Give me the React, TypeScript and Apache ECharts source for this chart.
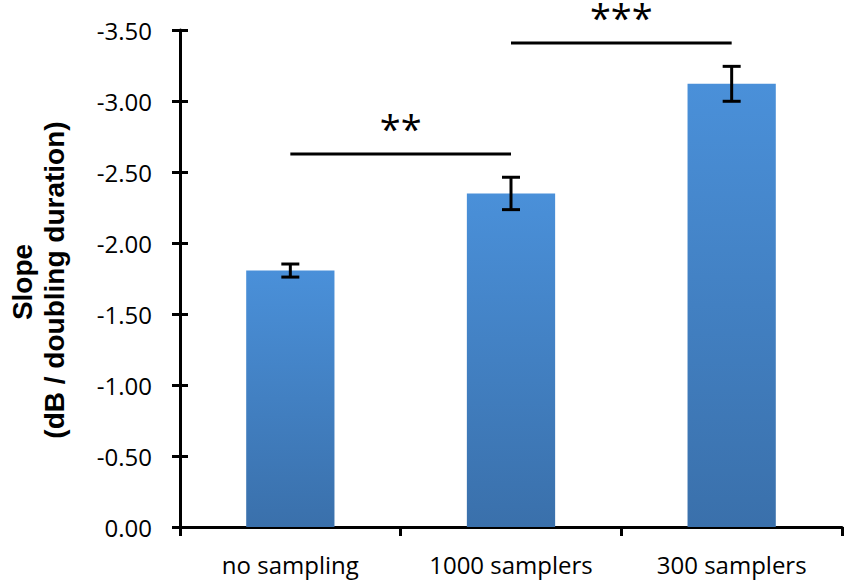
import React, { useEffect, useRef } from "react";
import * as echarts from "echarts";

const categories = ["no sampling", "1000 samplers", "300 samplers"];
const slopes = [-1.806, -2.349, -3.121];
const slopeErrors = [0.046, 0.114, 0.123];
const sigStart = [0, 1];
const sigEnd = [1, 2];
const sigLevel = [-2.626, -3.409];
const sigLabels = ["**", "***"];
const yTitleLines = ["Slope", "(dB / doubling duration)"];

export default function App() {
  const ref = useRef<HTMLDivElement>(null);
  useEffect(() => {
    document.body.style.margin = "0";
    const chart = echarts.init(ref.current!, null, { renderer: "svg" });
    const axisLine = { show: true, lineStyle: { color: "#000", width: 3 } };
    const errData = slopes.map((v, i) => [i, v, slopeErrors[i]]);
    const sigData = sigStart.map((s, i) => [s, sigEnd[i], sigLevel[i]]);
    chart.setOption({
      animation: false,
      grid: { left: 180, right: 8, top: 30, bottom: 57 },
      xAxis: {
        type: "category",
        data: categories,
        position: "bottom",
        axisLine: { ...axisLine, onZero: false },
        axisTick: { show: true, length: 9, lineStyle: { color: "#000", width: 3 } },
        axisLabel: { margin: 25, color: "#000", fontFamily: "Open Sans", fontSize: 24 },
      },
      yAxis: [
        {
          type: "value",
          inverse: true,
          min: -3.5,
          max: 0,
          interval: 0.5,
          axisLine,
          splitLine: { show: false },
          axisTick: { show: true, length: 8, lineStyle: { color: "#000", width: 3 } },
          axisLabel: {
            margin: 28,
            color: "#000",
            fontFamily: "Open Sans",
            fontSize: 24,
            formatter: (v: number) => v.toFixed(2),
          },
        },
        {
          type: "value",
          inverse: true,
          position: "left",
          min: -3.5,
          max: 0,
          interval: 0.5,
          axisLine: { show: false },
          splitLine: { show: false },
          axisTick: { show: true, inside: true, length: 8, lineStyle: { color: "#000", width: 3 } },
          axisLabel: { show: false },
        },
      ],
      series: [
        {
          type: "bar",
          data: slopes,
          barWidth: "40%",
          itemStyle: {
            color: new echarts.graphic.LinearGradient(0, 0, 0, 1, [
              { offset: 0, color: "#4a90d9" },
              { offset: 1, color: "#3a70ab" },
            ]),
          },
        },
        {
          type: "custom",
          data: errData,
          encode: { x: 0, y: 1 },
          z: 5,
          renderItem: (params: any, api: any) => {
            const i = api.value(0);
            const v = api.value(1);
            const e = api.value(2);
            const a = api.coord([i, v - e]);
            const b = api.coord([i, v + e]);
            const hw = 9;
            const st = { stroke: "#000", lineWidth: 3 };
            return {
              type: "group",
              children: [
                { type: "line", shape: { x1: a[0], y1: a[1], x2: b[0], y2: b[1] }, style: st },
                { type: "line", shape: { x1: a[0] - hw, y1: a[1], x2: a[0] + hw, y2: a[1] }, style: st },
                { type: "line", shape: { x1: b[0] - hw, y1: b[1], x2: b[0] + hw, y2: b[1] }, style: st },
              ],
            };
          },
        },
        {
          type: "custom",
          data: sigData,
          encode: { x: [0, 1], y: 2 },
          z: 5,
          renderItem: (params: any, api: any) => {
            const a = api.coord([api.value(0), api.value(2)]);
            const b = api.coord([api.value(1), api.value(2)]);
            const label = sigLabels[params.dataIndex];
            return {
              type: "group",
              children: [
                {
                  type: "line",
                  shape: { x1: a[0], y1: a[1], x2: b[0], y2: b[1] },
                  style: { stroke: "#000", lineWidth: 3 },
                },
                {
                  type: "text",
                  x: (a[0] + b[0]) / 2,
                  y: a[1] - 26,
                  style: {
                    text: label,
                    fill: "#000",
                    fontFamily: "Open Sans",
                    fontSize: 38,
                    lineHeight: 30,
                    textAlign: "center",
                    textVerticalAlign: "middle",
                    align: "center",
                    verticalAlign: "middle",
                  },
                },
              ],
            };
          },
        },
      ],
      graphic: [
        {
          type: "text",
          x: 22,
          y: 282,
          rotation: Math.PI / 2,
          style: {
            text: yTitleLines[0],
            fill: "#000",
            fontFamily: "Liberation Sans",
            fontWeight: "bold",
            fontSize: 28,
            textAlign: "center",
            textVerticalAlign: "middle",
            align: "center",
            verticalAlign: "middle",
          },
        },
        {
          type: "text",
          x: 54,
          y: 280,
          rotation: Math.PI / 2,
          style: {
            text: yTitleLines[1],
            fill: "#000",
            fontFamily: "Liberation Sans",
            fontWeight: "bold",
            fontSize: 28,
            textAlign: "center",
            textVerticalAlign: "middle",
            align: "center",
            verticalAlign: "middle",
          },
        },
      ],
    });
    return () => chart.dispose();
  }, []);
  return <div ref={ref} style={{ width: 850, height: 584 }} />;
}
